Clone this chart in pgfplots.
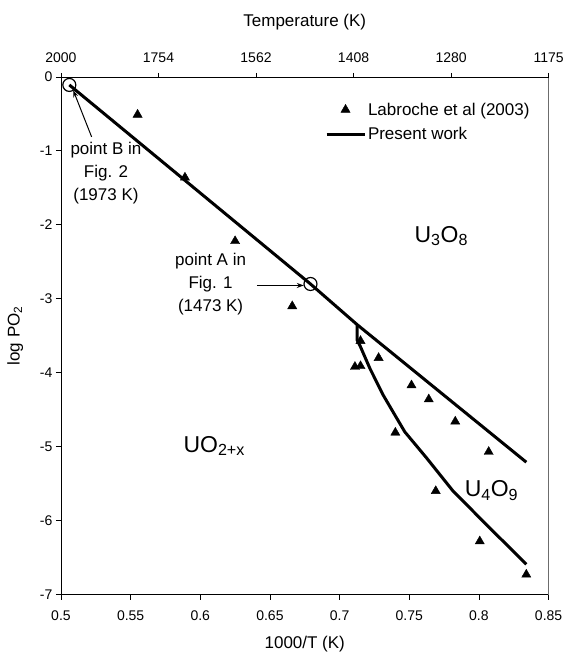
\documentclass[border=0pt]{standalone}
\usepackage{pgfplots}
\pgfplotsset{compat=1.18}
\usepackage{fontspec}
\setmainfont{Liberation Sans}
\usetikzlibrary{arrows.meta}

% Labroche et al. (2003) measurements: 1000/T vs log PO2
\pgfplotstableread{
x      y
0.555  -0.51
0.589  -1.36
0.625  -2.22
0.666  -3.10
0.715  -3.57
0.711  -3.92
0.715  -3.91
0.728  -3.80
0.7516 -4.17
0.764  -4.36
0.740  -4.81
0.783  -4.66
0.807  -5.07
0.769  -5.60
0.8006 -6.28
0.834  -6.73
}\labroche

% UO2+x / U3O8 boundary (present work)
\pgfplotstableread{
x      y
0.5060 -0.108
0.6791 -2.80
0.7126 -3.35
0.834  -5.21
}\upperline

% U4O9 boundary (present work)
\pgfplotstableread{
x      y
0.7126 -3.35
0.7126 -3.56
0.7150 -3.65
0.7217 -3.94
0.7312 -4.30
0.7396 -4.57
0.7468 -4.80
0.7623 -5.15
0.7814 -5.60
0.8078 -6.10
0.834  -6.59
}\lowerline

\begin{document}
\begin{tikzpicture}
\begin{axis}[
  name=main,
  scale only axis, width=488pt, height=518pt,
  xmin=0.5, xmax=0.85, ymin=-7, ymax=0,
  xtick={0.5,0.55,0.6,0.65,0.7,0.75,0.8,0.85},
  xticklabels={0.5,0.55,0.6,0.65,0.7,0.75,0.8,0.85},
  ytick={-7,-6,-5,-4,-3,-2,-1,0},
  xtick pos=bottom, ytick pos=left,
  tick align=outside, major tick length=5pt,
  tick style={black, line width=0.8pt},
  axis line style={black, line width=0.8pt},
  /pgf/number format/assume math mode=true,
  tick label style={font=\fontsize{14}{16}\selectfont},
  xticklabel style={yshift=-8pt},
  label style={font=\fontsize{17}{20}\selectfont},
  xlabel={1000/T (K)},
  ylabel={log PO\textsubscript{2}},
  xlabel shift=8pt,
  ylabel shift=10pt,
  legend style={at={(axis cs:0.6894,-0.32)}, anchor=north west,
    draw=none, fill=none, inner sep=0pt, row sep=7pt,
    font=\fontsize{17}{20}\selectfont},
  legend cell align=left,
]
\addplot[only marks, mark=triangle*, mark size=5.3pt, black,
  legend image code/.code={\draw[mark repeat=2,mark phase=2]
    plot coordinates {(0pt,0pt) (19pt,0pt) (38pt,0pt)};}]
  table[x=x,y=y] {\labroche};
\addlegendentry{Labroche et al (2003)}

\addplot[black, line width=3pt, line join=round,
  legend image code/.code={\draw (0pt,0pt) -- (38pt,0pt);}]
  table[x=x,y=y] {\upperline};
\addlegendentry{Present work}

\addplot[black, line width=3pt, line join=round, forget plot]
  table[x=x,y=y] {\lowerline};

% reference points A and B
\addplot[only marks, mark=o, mark size=6.5pt, black,
  mark options={line width=1.2pt, fill=none}, forget plot]
  coordinates {(0.5060,-0.108) (0.6791,-2.80)};

\draw[-{Stealth[length=7pt,width=5pt]}, line width=1pt]
  (axis cs:0.522,-0.81) -- (axis cs:0.5088,-0.18);
\draw[-{Stealth[length=7pt,width=5pt]}, line width=1pt]
  (axis cs:0.6406,-2.82) -- (axis cs:0.6743,-2.82);

\node[font=\fontsize{17}{23}\selectfont, align=center]
  at (axis cs:0.5323,-1.305) {point B in\\Fig. 2\\(1973 K)};
\node[font=\fontsize{17}{23}\selectfont, align=center]
  at (axis cs:0.6074,-2.806) {point A in\\Fig. 1\\(1473 K)};

\node[font=\fontsize{23}{26}\selectfont] at (axis cs:0.773,-2.15)
  {U\textsubscript{3}O\textsubscript{8}};
\node[font=\fontsize{23}{26}\selectfont] at (axis cs:0.610,-4.99)
  {UO\textsubscript{2+x}};
\node[font=\fontsize{23}{26}\selectfont] at (axis cs:0.809,-5.59)
  {U\textsubscript{4}O\textsubscript{9}};

\draw[gray!70, line width=1.5pt] (rel axis cs:1,0) -- (rel axis cs:1,1);
\coordinate (bl) at (rel axis cs:0,0);
\coordinate (tr) at (rel axis cs:1,1);
\end{axis}

% secondary temperature scale along the top
\begin{axis}[
  scale only axis, width=488pt, height=518pt,
  xmin=0.5, xmax=0.85, ymin=0, ymax=1,
  axis x line*=top, hide y axis,
  xtick={0.5,0.57,0.64,0.71,0.78,0.85},
  xticklabels={2000,1754,1562,1408,1280,1175},
  tick align=outside, major tick length=4pt,
  tick style={black, line width=0.8pt},
  axis line style={black, line width=0.8pt},
  tick label style={font=\fontsize{14}{16}\selectfont},
  xticklabel style={yshift=7pt},
  label style={font=\fontsize{17}{20}\selectfont},
  xlabel={Temperature (K)},
  xlabel shift=16pt,
]
\end{axis}

\path (bl) ++(-61pt,-60pt) coordinate (p1);
\path (tr) ++(14pt,77pt) coordinate (p2);
\path (p1) rectangle (p2);
\end{tikzpicture}
\end{document}
